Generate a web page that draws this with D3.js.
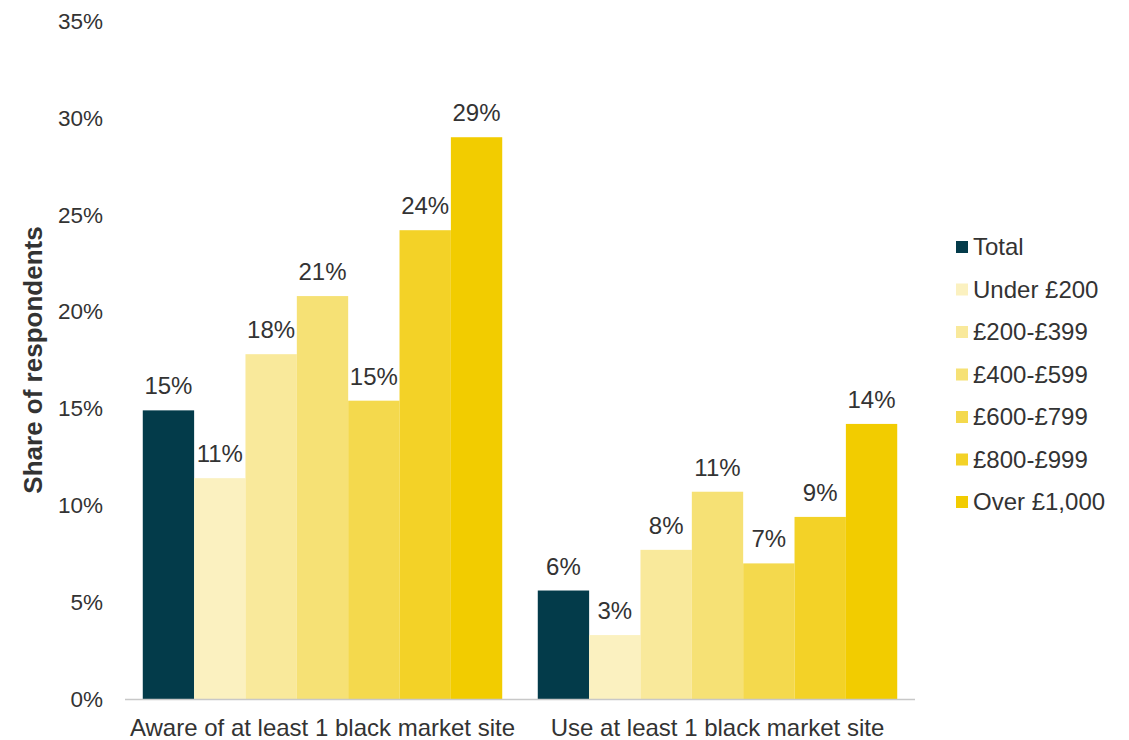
<!DOCTYPE html>
<html>
<head>
<meta charset="utf-8">
<script src="https://cdn.jsdelivr.net/npm/d3@7"></script>
<style>
  body { margin: 0; background: #fff; }
  text { font-family: "Liberation Sans", Arial, sans-serif; fill: #333; }
</style>
</head>
<body>
<svg id="chart" width="1129" height="740"></svg>
<script>
// categories on the x axis
const categories = ['Aware of at least 1 black market site', 'Use at least 1 black market site'];
// price bands (series)
const series = ['Total', 'Under £200', '£200-£399', '£400-£599', '£600-£799', '£800-£999', 'Over £1,000'];
const seriesColors = ['#033b4a', '#fbf1c0', '#f9e99b', '#f6e175', '#f4d94d', '#f3d227', '#f2cc00'];
// values per category, in series order
const awareValues = [0.149, 0.114, 0.178, 0.208, 0.154, 0.242, 0.290];
const useValues = [0.056, 0.033, 0.077, 0.107, 0.070, 0.094, 0.142];
// labels shown above bars
const awareLabels = ['15%', '11%', '18%', '21%', '15%', '24%', '29%'];
const useLabels = ['6%', '3%', '8%', '11%', '7%', '9%', '14%'];
const yTicks = [0, 0.05, 0.10, 0.15, 0.20, 0.25, 0.30, 0.35];

const svg = d3.select('#chart');
const plot = { left: 125, right: 915, top: 21, bottom: 699 };

const x0 = d3.scaleBand()
    .domain(categories)
    .range([plot.left, plot.right])
    .paddingInner(0.09)
    .paddingOuter(0.045);

const x1 = d3.scaleBand()
    .domain(series)
    .range([0, x0.bandwidth()]);

const y = d3.scaleLinear()
    .domain([0, 0.35])
    .range([plot.bottom, plot.top]);

const rows = [
    { cat: categories[0], values: awareValues, labels: awareLabels },
    { cat: categories[1], values: useValues, labels: useLabels }
];

// y tick labels (no axis line)
svg.append('g')
    .selectAll('text')
    .data(yTicks)
    .join('text')
    .attr('x', 103)
    .attr('y', d => y(d))
    .attr('dy', '0.35em')
    .attr('text-anchor', 'end')
    .style('font-size', '22.5px')
    .text(d => d3.format('.0%')(d));

// y title
svg.append('text')
    .attr('transform', `translate(42,${(plot.top + plot.bottom) / 2}) rotate(-90)`)
    .attr('text-anchor', 'middle')
    .style('font-size', '26px')
    .style('font-weight', 'bold')
    .text('Share of respondents');

// bars
const groups = svg.append('g')
    .selectAll('g')
    .data(rows)
    .join('g')
    .attr('transform', d => `translate(${x0(d.cat)},0)`);

groups.selectAll('rect')
    .data(d => d.values.map((v, i) => ({ key: series[i], value: v, label: d.labels[i], color: seriesColors[i] })))
    .join('rect')
    .attr('x', d => x1(d.key))
    .attr('y', d => y(d.value))
    .attr('width', x1.bandwidth())
    .attr('height', d => y(0) - y(d.value))
    .attr('fill', d => d.color);

groups.selectAll('text.bar-label')
    .data(d => d.values.map((v, i) => ({ key: series[i], value: v, label: d.labels[i] })))
    .join('text')
    .attr('class', 'bar-label')
    .attr('x', d => x1(d.key) + x1.bandwidth() / 2)
    .attr('y', d => y(d.value) - 16)
    .attr('text-anchor', 'middle')
    .style('font-size', '24px')
    .text(d => d.label);

// x baseline
svg.append('line')
    .attr('x1', plot.left)
    .attr('x2', plot.right)
    .attr('y1', plot.bottom + 0.5)
    .attr('y2', plot.bottom + 0.5)
    .attr('stroke', '#c8c8c8')
    .attr('stroke-width', 1.5);

// x category labels
svg.append('g')
    .selectAll('text')
    .data(categories)
    .join('text')
    .attr('x', d => x0(d) + x0.bandwidth() / 2)
    .attr('y', 728)
    .attr('dy', '0.35em')
    .attr('text-anchor', 'middle')
    .style('font-size', '24px')
    .text(d => d);

// legend
const legend = svg.append('g')
    .selectAll('g')
    .data(series)
    .join('g')
    .attr('transform', (d, i) => `translate(956,${247 + i * 42.5})`);

legend.append('rect')
    .attr('x', 0)
    .attr('y', -6)
    .attr('width', 12)
    .attr('height', 12)
    .attr('fill', (d, i) => seriesColors[i]);

legend.append('text')
    .attr('x', 17)
    .attr('y', 0)
    .attr('dy', '0.35em')
    .style('font-size', '24px')
    .text(d => d);
</script>
</body>
</html>
